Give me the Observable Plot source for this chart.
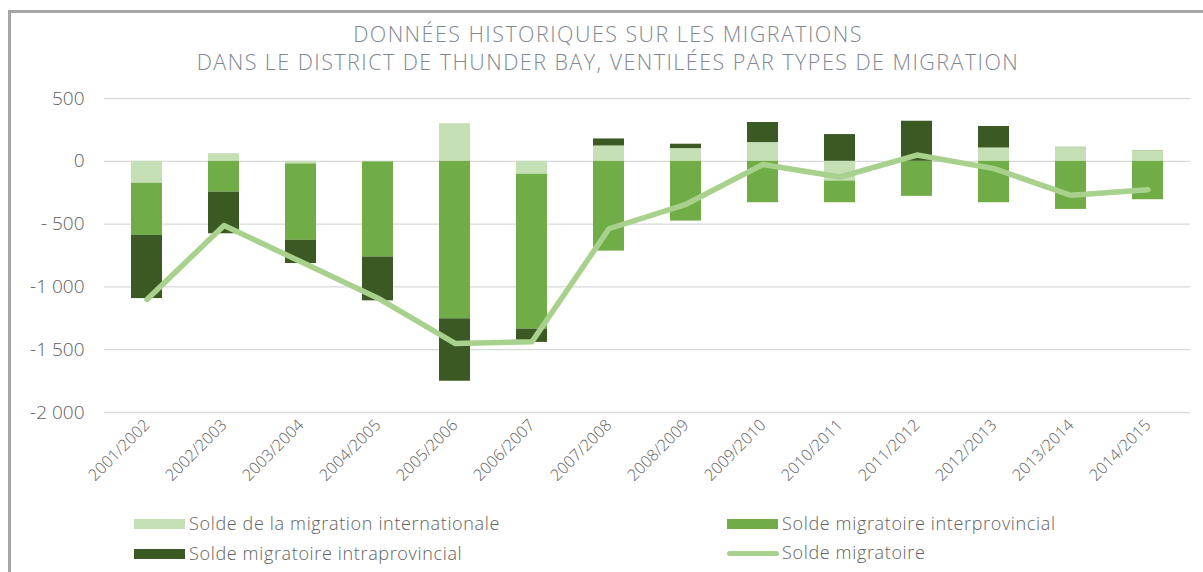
<!DOCTYPE html>
<html>
<head>
<meta charset="utf-8">
<script src="https://cdn.jsdelivr.net/npm/d3@7"></script>
<script src="https://cdn.jsdelivr.net/npm/@observablehq/plot@0.6"></script>
<style>
  html, body { margin: 0; padding: 0; background: #fff; }
  #wrap { position: relative; width: 1203px; height: 572px; overflow: hidden; font-family: "Open Sans", sans-serif; }
  #frame { position: absolute; left: 8px; top: 10px; width: 1300px; height: 700px; border-left: 3px solid #a6a6a6; border-top: 3px solid #a6a6a6; box-sizing: border-box; }
  #title { position: absolute; left: 0; width: 1216px; top: 20px; text-align: center; color: #7f8891; font-size: 21.5px; line-height: 28px; font-weight: 300; letter-spacing: 1.45px; }
  #chart { position: absolute; left: 0; top: 80px; }
  .leg { position: absolute; color: #626262; font-size: 18px; font-weight: 300; line-height: 22px; white-space: nowrap; letter-spacing: 0.65px; }
  .sw { position: absolute; width: 51px; height: 10px; }
  .ln { position: absolute; width: 52px; height: 5px; border-radius: 3px; }
</style>
</head>
<body>
<div id="wrap">
  <div id="frame"></div>
  <div id="title">DONNÉES HISTORIQUES SUR LES MIGRATIONS<br>DANS LE DISTRICT DE THUNDER BAY, VENTILÉES PAR TYPES DE MIGRATION</div>
  <div id="chart"></div>
  <div id="legend"></div>
</div>
<script>
const years = ["2001/2002","2002/2003","2003/2004","2004/2005","2005/2006","2006/2007","2007/2008","2008/2009","2009/2010","2010/2011","2011/2012","2012/2013","2013/2014","2014/2015"];
const international = [-175, 61, -21, -5, 299, -103, 122, 101, 149, -157, 0, 106, 109, 85];
const interprovincial = [-415, -246, -608, -757, -1254, -1233, -715, -476, -330, -173, -279, -330, -383, -306];
const intraprovincial = [-503, -331, -185, -349, -497, -106, 56, 35, 160, 213, 319, 171, 2, 1];
const netMigration = [-1100, -511, -800, -1090, -1450, -1437, -537, -342, -25, -125, 50, -58, -271, -226];

const seriesNames = ["Solde de la migration internationale", "Solde migratoire interprovincial", "Solde migratoire intraprovincial"];
const lineName = "Solde migratoire";
const seriesColors = ["#c5e0b4", "#70ad47", "#3b5a23"];
const lineColor = "#a9d18e";

const yTicks = [500, 0, -500, -1000, -1500, -2000];
const yTickLabels = ["500", "0", "- 500", "-1 000", "-1 500", "-2 000"];

const seriesValues = [international, interprovincial, intraprovincial];
const barData = [];
years.forEach((yr, i) => {
  seriesValues.forEach((vals, s) => {
    barData.push({year: yr, series: seriesNames[s], value: vals[i]});
  });
});
const lineData = years.map((yr, i) => ({year: yr, value: netMigration[i]}));
const labelMap = new Map(yTicks.map((t, i) => [t, yTickLabels[i]]));

const chart = Plot.plot({
  width: 1203,
  height: 422,
  marginTop: 18,
  marginBottom: 90,
  marginLeft: 104,
  marginRight: 13,
  style: {fontFamily: "Open Sans, sans-serif", color: "#595959", background: "transparent"},
  x: {domain: years, paddingInner: 0.6, paddingOuter: 0.3, label: null},
  y: {domain: [-2000, 500], label: null},
  color: {domain: seriesNames, range: seriesColors},
  marks: [
    Plot.gridY(yTicks, {stroke: "#d9d9d9", strokeOpacity: 1, strokeWidth: 1.3}),
    Plot.barY(barData, {x: "year", y: "value", fill: "series"}),
    Plot.line(lineData, {x: "year", y: "value", stroke: lineColor, strokeWidth: 5.5, strokeLinecap: "round", strokeLinejoin: "round"}),
    Plot.axisY(yTicks, {tickSize: 0, tickPadding: 20, tickFormat: d => labelMap.get(d), fontSize: 19, fill: "#5e5e5e", fontWeight: 300}),
    Plot.axisX({tickSize: 0, tickRotate: -45, tickPadding: 10, fontSize: 16, fill: "#5e5e5e", fontWeight: 300, style: {letterSpacing: "0.3px"}})
  ]
});
document.getElementById("chart").appendChild(chart);

const legend = document.getElementById("legend");
const items = [
  {name: seriesNames[0], color: seriesColors[0], x: 134, y: 524, type: "bar"},
  {name: seriesNames[1], color: seriesColors[1], x: 727, y: 524, type: "bar"},
  {name: seriesNames[2], color: seriesColors[2], x: 134, y: 554, type: "bar"},
  {name: lineName, color: lineColor, x: 727, y: 553, type: "line"}
];
items.forEach(it => {
  const sw = document.createElement("div");
  if (it.type === "bar") {
    sw.className = "sw";
    sw.style.left = it.x + "px";
    sw.style.top = (it.y - 5) + "px";
  } else {
    sw.className = "ln";
    sw.style.left = it.x + "px";
    sw.style.top = (it.y - 2.5) + "px";
  }
  sw.style.background = it.color;
  legend.appendChild(sw);
  const t = document.createElement("div");
  t.className = "leg";
  t.textContent = it.name;
  t.style.left = (it.x + 55) + "px";
  t.style.top = (it.y - 12) + "px";
  legend.appendChild(t);
});
</script>
</body>
</html>
